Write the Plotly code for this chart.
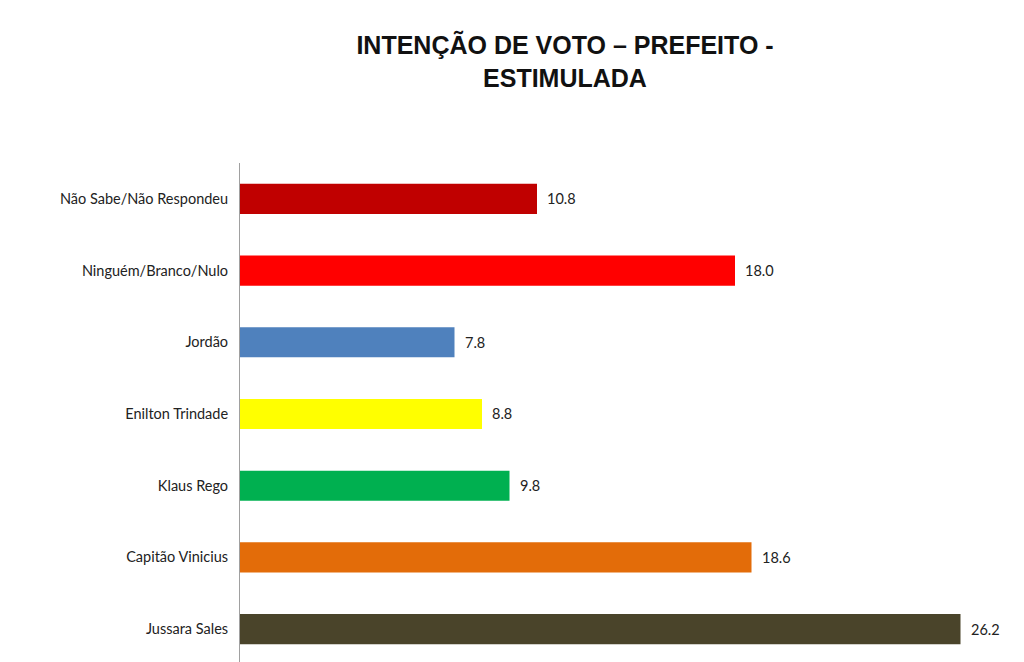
import plotly.graph_objects as go

# dados (de baixo para cima)
candidatos = ["Jussara Sales", "Capitão Vinicius", "Klaus Rego", "Enilton Trindade",
              "Jordão", "Ninguém/Branco/Nulo", "Não Sabe/Não Respondeu"]
percentuais = [26.2, 18.6, 9.8, 8.8, 7.8, 18.0, 10.8]
cores = ["#4A442A", "#E36C09", "#00B050", "#FFFF00", "#4F81BD", "#FF0000", "#C00000"]

fig = go.Figure()
fig.add_trace(go.Bar(
    x=percentuais,
    y=candidatos,
    orientation="h",
    marker=dict(color=cores, line=dict(width=0)),
    width=0.42,
    hoverinfo="x+y",
))

# rótulos de valor à direita de cada barra
for c, v in zip(candidatos, percentuais):
    fig.add_annotation(
        x=v, y=c, text=f"{v:.1f}", showarrow=False,
        xanchor="left", xshift=8,
        font=dict(family="Lato, Open Sans, sans-serif", size=14.5, color="#222"),
    )

fig.update_layout(
    width=1024, height=662,
    paper_bgcolor="white", plot_bgcolor="white",
    margin=dict(l=232, r=0, t=155, b=0),
    showlegend=False,
    title=dict(
        text="<b>INTENÇÃO DE VOTO – PREFEITO -<br>ESTIMULADA</b>",
        x=557 / 1024, xanchor="center", y=0.93, yanchor="top",
        font=dict(family="Liberation Sans, Arial, sans-serif", size=25, color="#111"),
    ),
    xaxis=dict(range=[0, 28.8], visible=False),
    yaxis=dict(
        range=[-0.57, 6.5],
        showline=True, linecolor="#A0A0A0", linewidth=1,
        showgrid=False, zeroline=False,
        ticks="", ticklabelstandoff=8,
        tickfont=dict(family="Lato, Open Sans, sans-serif", size=14.5, color="#222"),
    ),
)

fig.write_html("out.html")
